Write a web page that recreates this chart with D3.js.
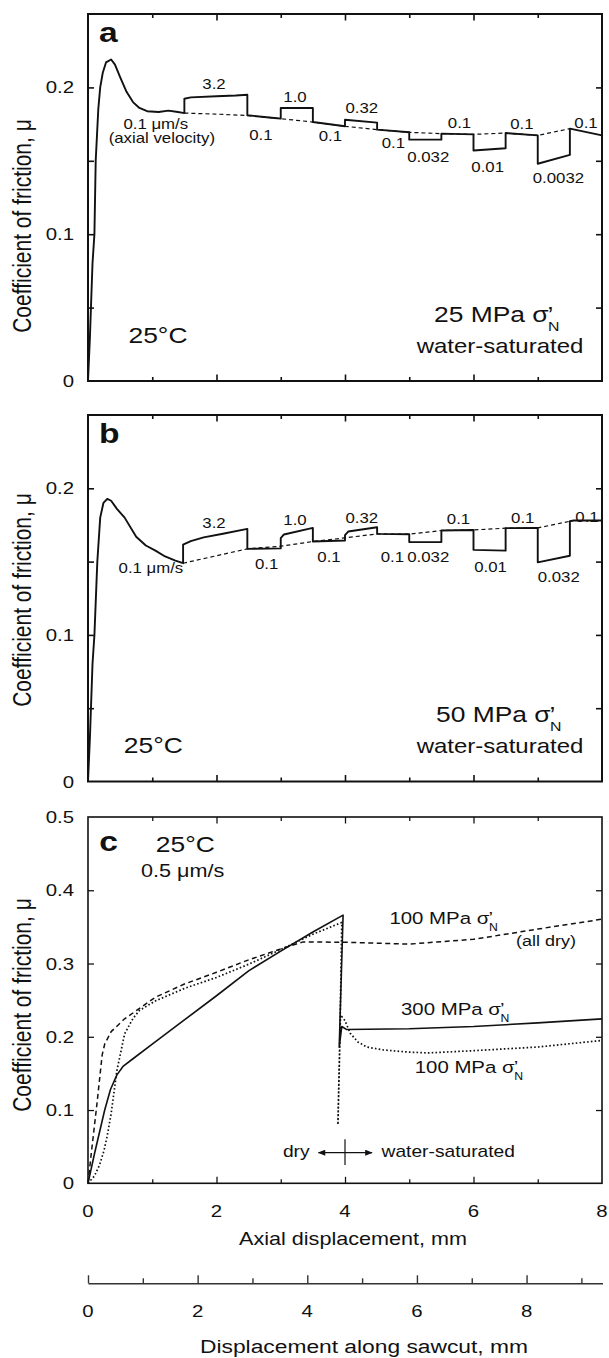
<!DOCTYPE html>
<html>
<head>
<meta charset="utf-8">
<script src="https://cdn.jsdelivr.net/npm/d3@7"></script>
<style>
body { margin: 0; background: #fff; }
svg { display: block; }
text { font-family: "Liberation Sans", Arial, sans-serif; fill: #111; }
</style>
</head>
<body>
<script>
// ---- data: [axial displacement mm, friction] ----
var curveA = [[0,0],[0.03,0.03],[0.07,0.08],[0.1,0.1],[0.12,0.15],[0.16,0.185],[0.19,0.2],[0.23,0.21],[0.28,0.217],
  [0.36,0.2190],[0.42,0.2155],[0.5,0.207],[0.6,0.197],[0.7,0.19],[0.8,0.186],[0.92,0.1838],[1.1,0.1832],
  [1.25,0.1842],[1.4,0.1832],[1.5,0.1825],
  [1.5,0.1923],[1.6,0.1932],[2.0,0.194],[2.3,0.1945],[2.48,0.195],
  [2.48,0.181],[2.9,0.1792],[3.0,0.1787],
  [3.0,0.186],[3.5,0.186],
  [3.5,0.1764],[4.0,0.1735],
  [4.0,0.178],[4.5,0.176],
  [4.5,0.1712],[5.0,0.1694],
  [5.0,0.1644],[5.5,0.1644],
  [5.5,0.1685],[6.0,0.168],
  [6.0,0.157],[6.5,0.1585],
  [6.5,0.1689],[7.0,0.1673],
  [7.0,0.148],[7.5,0.154],
  [7.5,0.1719],[8.0,0.1673]];
var refA = [[1.5,0.1825],[2.0,0.1818],[2.5,0.1808],[3.0,0.1787],[3.5,0.1764],[4.0,0.1735],[4.5,0.1712],
  [5.0,0.1694],[5.5,0.1685],[6.0,0.168],[6.5,0.1689],[7.0,0.1673],[7.5,0.1719]];
var velA = [[1.961,0.1987,"3.2"],[3.222,0.1903,"1.0"],[4.262,0.1826,"0.32"],
  [1.055,0.1718,"0.1 μm/s"],[1.149,0.1622,"(axial velocity)"],
  [2.691,0.1642,"0.1"],[3.773,0.1637,"0.1"],[4.752,0.1585,"0.1"],[5.296,0.1494,"0.032"],
  [5.782,0.1721,"0.1"],[6.221,0.1426,"0.01"],[6.752,0.1717,"0.1"],[7.321,0.1347,"0.0032"],[7.751,0.1721,"0.1"]];

var curveB = [[0,0],[0.03,0.03],[0.07,0.08],[0.1,0.1],[0.145,0.15],[0.19,0.18],[0.24,0.19],[0.3,0.1928],
  [0.36,0.1915],[0.45,0.186],[0.57,0.1800],[0.75,0.167],[0.9,0.161],[1.05,0.1575],[1.2,0.1535],[1.36,0.1507],[1.48,0.1489],
  [1.48,0.1616],[1.6,0.164],[1.8,0.1665],[2.1,0.169],[2.48,0.1723],
  [2.48,0.1587],[3.0,0.159],
  [3.0,0.166],[3.05,0.1685],[3.5,0.173],
  [3.5,0.1637],[4.0,0.1644],
  [4.0,0.168],[4.05,0.1705],[4.5,0.1734],
  [4.5,0.1689],[5.0,0.1687],
  [5.0,0.1633],[5.5,0.1633],
  [5.5,0.1712],[6.0,0.1716],
  [6.0,0.158],[6.5,0.1575],
  [6.5,0.1728],[7.0,0.173],
  [7.0,0.1495],[7.5,0.154],
  [7.5,0.1775],[7.56,0.178],[8.0,0.178]];
var refB = [[1.48,0.1489],[2.0,0.154],[2.48,0.1587],[3.0,0.1605],[3.5,0.1637],[4.0,0.1662],[4.5,0.1689],
  [5.0,0.1687],[5.5,0.1712],[6.0,0.1716],[6.5,0.1728],[7.0,0.173],[7.5,0.1775]];
var velB = [[1.961,0.1727,"3.2"],[3.222,0.175,"1.0"],[4.262,0.1761,"0.32"],[0.979,0.142,"0.1 μm/s"],
  [2.781,0.1447,"0.1"],[3.751,0.1499,"0.1"],[4.736,0.1499,"0.1"],[5.296,0.1499,"0.032"],
  [5.767,0.1756,"0.1"],[6.266,0.1431,"0.01"],[6.767,0.1761,"0.1"],[7.327,0.1363,"0.032"],[7.767,0.1772,"0.1"]];

var wet300 = [[0,0],[0.1,0.04],[0.26,0.1],[0.35,0.128],[0.45,0.148],[0.55,0.16],[0.7,0.17],[1.0,0.19],
  [1.5,0.223],[2.0,0.256],[2.5,0.29],[3.0,0.317],[3.5,0.343],[3.97,0.366],[3.91,0.186],[3.95,0.214],
  [4.02,0.21],[5.0,0.211],[6.0,0.214],[7.0,0.219],[8.0,0.2245]];
var dry100 = [[0,0],[0.05,0.04],[0.14,0.109],[0.22,0.175],[0.26,0.19],[0.36,0.207],[0.57,0.2245],[1.05,0.254],
  [1.5,0.272],[2.0,0.288],[2.5,0.305],[3.0,0.32],[3.35,0.3295],[4.0,0.329],[5.0,0.3265],[6.0,0.333],
  [7.0,0.347],[8.0,0.3605]];
var wet100 = [[0,0],[0.1,0.01],[0.18,0.025],[0.25,0.045],[0.3,0.065],[0.36,0.095],[0.45,0.154],[0.57,0.204],
  [0.7,0.225],[0.8,0.236],[1.05,0.249],[1.5,0.266],[2.0,0.281],[2.5,0.299],[3.0,0.319],[3.5,0.34],
  [3.95,0.356],[3.92,0.2],[3.89,0.08],[3.93,0.23],[4.0,0.222],[4.08,0.205],[4.2,0.193],[4.34,0.186],
  [4.6,0.182],[5.0,0.179],[5.3,0.178],[6.0,0.181],[7.0,0.186],[8.0,0.195]];

var xMajor = [2, 4, 6];
var xMinor = [1, 3, 5, 7];
var xLabels = [0, 2, 4, 6, 8];
var yLabelsAB = [0, 0.1, 0.2];
var yTicksAB = [0.05, 0.1, 0.15, 0.2];
var yLabelsC = [0, 0.1, 0.2, 0.3, 0.4, 0.5];
var yTicksC = [0.1, 0.2, 0.3, 0.4];
var sawMajor = [0, 2, 4, 6, 8];
var sawMinor = [1, 3, 5, 7, 9];
var sawMax = 9.385;

// ---- drawing ----
var W = 609, H = 1358;
var ink = "#111";
var STRETCH = 1.2; // the printed figure is widened, text included

var svg = d3.select("body").append("svg").attr("width", W).attr("height", H);
svg.append("rect").attr("width", W).attr("height", H).attr("fill", "#fff");

var defs = svg.append("defs");
defs.append("marker").attr("id", "arr").attr("viewBox", "0 0 10 8")
  .attr("refX", 9).attr("refY", 4).attr("markerWidth", 8).attr("markerHeight", 6)
  .attr("markerUnits", "userSpaceOnUse").attr("orient", "auto-start-reverse")
  .append("path").attr("d", "M0,0L10,4L0,8Z").attr("fill", ink);

var x = d3.scaleLinear().domain([0, 8]).range([88, 602]);

function label(g, px, py, s, size, anchor, weight) {
  return g.append("text")
    .attr("transform", "translate(" + px + "," + py + ") scale(" + STRETCH + ",1)")
    .attr("text-anchor", anchor || "start")
    .style("font-size", size + "px")
    .style("font-weight", weight || "normal")
    .text(s);
}

function sigmaLabel(g, px, py, pre, size) {
  var t = label(g, px, py, pre + " MPa σ", size);
  t.append("tspan").attr("dx", -size * 0.04).text("’");
  t.append("tspan").attr("dx", -size * 0.2).attr("dy", size * 0.4)
    .style("font-size", (size * 0.6) + "px").text("N");
}

function ticks(g, axisFn, scale, vals, len, tx, ty, sw) {
  var a = g.append("g").attr("transform", "translate(" + tx + "," + ty + ")")
    .call(axisFn(scale).tickValues(vals).tickSizeInner(-len).tickSizeOuter(0).tickFormat(""));
  a.select(".domain").remove();
  a.selectAll("line").attr("stroke", ink).attr("stroke-width", sw);
}

function panel(top, bottom, yMax, yTicks, yLabels, frameW, labelY) {
  var y = d3.scaleLinear().domain([0, yMax]).range([bottom, top]);
  var g = svg.append("g");
  g.append("rect").attr("x", x(0)).attr("y", top)
    .attr("width", x(8) - x(0)).attr("height", bottom - top)
    .attr("fill", "none").attr("stroke", ink).attr("stroke-width", frameW);
  ticks(g, d3.axisTop, x, xMajor, 6.5, 0, top, frameW * 0.8);
  ticks(g, d3.axisTop, x, xMinor, 4, 0, top, frameW * 0.8);
  ticks(g, d3.axisBottom, x, xMajor, 6.5, 0, bottom, frameW * 0.8);
  ticks(g, d3.axisBottom, x, xMinor, 4, 0, bottom, frameW * 0.8);
  ticks(g, d3.axisLeft, y, yTicks, 6, x(0), 0, frameW * 0.8);
  ticks(g, d3.axisRight, y, yTicks, 6, x(8), 0, frameW * 0.8);
  yLabels.forEach(function (v) {
    label(g, 74, y(v) + 6, v === 0 ? "0" : d3.format(".1f")(v), 17, "end");
  });
  svg.append("text")
    .attr("transform", "translate(31," + labelY + ") scale(" + STRETCH + ",1) rotate(-90)")
    .attr("text-anchor", "middle").style("font-size", "21px")
    .text("Coefficient of friction, μ");
  return { g: g, y: y };
}

function drawLine(p, data, sw, dash) {
  var line = d3.line().x(function (d) { return x(d[0]); }).y(function (d) { return p.y(d[1]); });
  p.g.append("path").datum(data).attr("d", line)
    .attr("fill", "none").attr("stroke", ink).attr("stroke-width", sw)
    .attr("stroke-linejoin", "round")
    .attr("stroke-dasharray", dash || null);
}

function velLabels(p, data) {
  data.forEach(function (d) { label(p.g, x(d[0]), p.y(d[1]), d[2], 14, "middle"); });
}

// panel a
var pa = panel(14, 381, 0.25, yTicksAB, yLabelsAB, 2, 226);
drawLine(pa, refA, 1.2, "4,3");
drawLine(pa, curveA, 1.9);
velLabels(pa, velA);
label(pa.g, 99, 42, "a", 28, "start", "bold");
label(pa.g, 128.5, 342.7, "25°C", 22);
sigmaLabel(pa.g, 434, 321.7, "25", 22);
label(pa.g, 416.7, 353, "water-saturated", 20);

// panel b
var pb = panel(415, 781.5, 0.25, yTicksAB, yLabelsAB, 2, 600);
drawLine(pb, refB, 1.2, "4,3");
drawLine(pb, curveB, 1.9);
velLabels(pb, velB);
label(pb.g, 99, 443, "b", 28, "start", "bold");
label(pb.g, 123.8, 753.3, "25°C", 22);
sigmaLabel(pb.g, 436, 721.7, "50", 22);
label(pb.g, 416.7, 753.3, "water-saturated", 20);

// panel c
var pc = panel(817, 1183.3, 0.5, yTicksC, yLabelsC, 1.6, 1005);
drawLine(pc, dry100, 1.5, "5,3.5");
drawLine(pc, wet100, 1.7, "1.6,2.2");
drawLine(pc, wet300, 1.6);
label(pc.g, 99.3, 850.7, "c", 28, "start", "bold");
label(pc.g, 155.8, 851.7, "25°C", 22);
label(pc.g, 141, 876.7, "0.5 μm/s", 18);
sigmaLabel(pc.g, 389.4, 924, "100", 17);
label(pc.g, 516, 946, "(all dry)", 15);
sigmaLabel(pc.g, 401, 1015, "300", 17);
sigmaLabel(pc.g, 414.7, 1073.3, "100", 17);
pc.g.append("line").attr("x1", x(3.588)).attr("x2", x(4.419))
  .attr("y1", pc.y(0.0418)).attr("y2", pc.y(0.0418))
  .attr("stroke", ink).attr("stroke-width", 1.2)
  .attr("marker-start", "url(#arr)").attr("marker-end", "url(#arr)");
pc.g.append("line").attr("x1", x(4)).attr("x2", x(4))
  .attr("y1", pc.y(0.06)).attr("y2", pc.y(0.025))
  .attr("stroke", ink).attr("stroke-width", 1.2);
label(pc.g, 309.6, 1157, "dry", 16, "end");
label(pc.g, 381.6, 1157, "water-saturated", 16);

xLabels.forEach(function (v) { label(svg, x(v), 1216.7, String(v), 17, "middle"); });
label(svg, 353, 1245, "Axial displacement, mm", 18, "middle");

// second scale: displacement along the sawcut
var sx = d3.scaleLinear().domain([0, sawMax]).range([88, 602.5]);
var sg = svg.append("g").attr("transform", "translate(0,1283.3)");
sg.call(d3.axisTop(sx).tickValues(sawMajor).tickSizeInner(8).tickSizeOuter(0).tickFormat(""));
sg.append("g").call(d3.axisTop(sx).tickValues(sawMinor).tickSizeInner(5).tickSizeOuter(0).tickFormat(""))
  .select(".domain").remove();
sg.selectAll("path, line").attr("stroke", "#333").attr("stroke-width", 1.4);
sawMajor.forEach(function (v) { label(svg, sx(v), 1317, String(v), 17, "middle"); });
label(svg, 364, 1353, "Displacement along sawcut, mm", 19, "middle");
</script>
</body>
</html>
